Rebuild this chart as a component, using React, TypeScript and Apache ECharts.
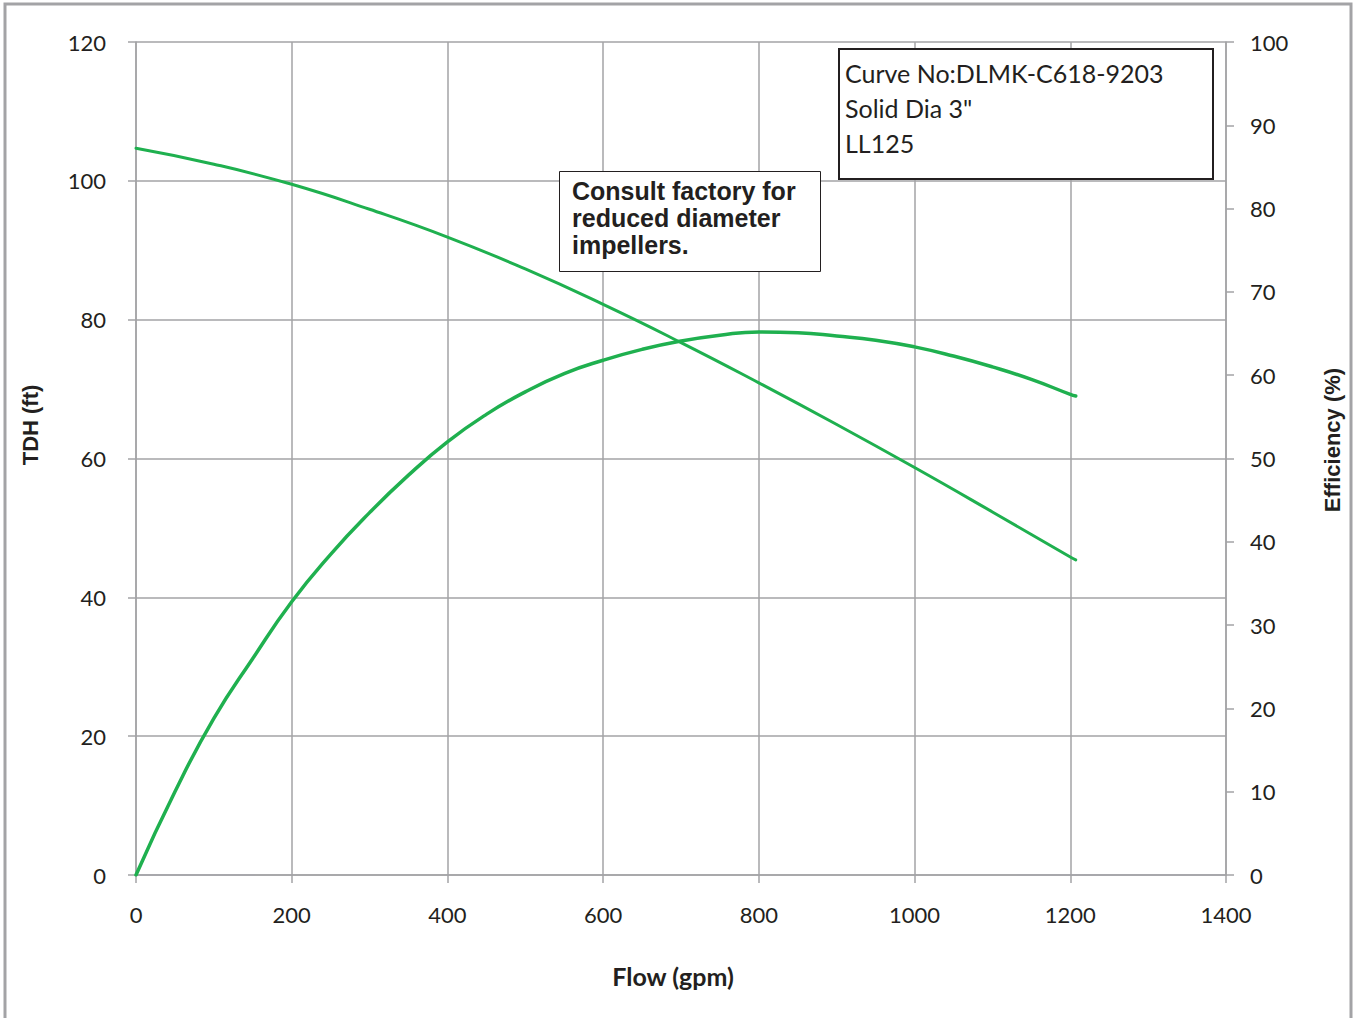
import React, { useEffect, useRef } from "react";
import * as echarts from "echarts";

const flowEff = [0, 50, 100, 150, 200, 250, 300, 350, 400, 450, 500, 550, 600, 650, 700, 750, 800, 850, 900, 950, 1000, 1050, 1100, 1150, 1200, 1207];
const effValues = [0, 10.0, 18.8, 26.0, 32.8, 38.5, 43.5, 48.0, 52.0, 55.3, 58.0, 60.2, 61.8, 63.1, 64.1, 64.8, 65.2, 65.1, 64.7, 64.2, 63.4, 62.3, 61.0, 59.5, 57.7, 57.5];

const flowHead = [0, 100, 200, 300, 400, 500, 600, 700, 800, 900, 1000, 1100, 1200, 1207];
const headValues = [104.7, 102.4, 99.5, 95.9, 91.9, 87.3, 82.2, 76.7, 70.9, 64.9, 58.7, 52.3, 45.8, 45.4];

const curveInfo = ["Curve No:DLMK-C618-9203", 'Solid Dia 3"', "LL125"];
const noteLines = ["Consult factory for", "reduced diameter", "impellers."];

const GREEN = "#1fb04f";
const GRID = "#a3a3a6";
const TXT = "#231f20";
const FONT = "Lato";

export default function App() {
  const ref = useRef<HTMLDivElement>(null);
  useEffect(() => {
    if (!ref.current) return;
    const chart = echarts.init(ref.current, null, { renderer: "svg" });
    const headData = flowHead.map((f, i) => [f, headValues[i]]);
    const effData = flowEff.map((f, i) => [f, effValues[i]]);
    const axisLabel = { color: TXT, fontSize: 22, fontFamily: FONT, formatter: (v: number) => String(v) };
    chart.setOption({
      animation: false,
      backgroundColor: "#ffffff",
      grid: { left: 136, right: 129, top: 42, bottom: 143, containLabel: false },
      xAxis: {
        type: "value",
        min: 0,
        max: 1400,
        interval: 200,
        axisLine: { show: true, lineStyle: { color: GRID, width: 1.5 } },
        axisTick: { show: true, length: 8, lineStyle: { color: GRID, width: 1.5 } },
        splitLine: { show: true, lineStyle: { color: GRID, width: 1.5 } },
        axisLabel: { ...axisLabel, margin: 28 },
      },
      yAxis: [
        {
          type: "value",
          min: 0,
          max: 120,
          interval: 20,
          position: "left",
          axisLine: { show: true, lineStyle: { color: GRID, width: 1.5 } },
          axisTick: { show: true, length: 8, lineStyle: { color: GRID, width: 1.5 } },
          splitLine: { show: true, lineStyle: { color: GRID, width: 1.5 } },
          axisLabel: { ...axisLabel, margin: 30 },
        },
        {
          type: "value",
          min: 0,
          max: 100,
          interval: 10,
          position: "right",
          axisLine: { show: true, lineStyle: { color: GRID, width: 1.5 } },
          axisTick: { show: true, length: 8, lineStyle: { color: GRID, width: 1.5 } },
          splitLine: { show: false },
          axisLabel: { ...axisLabel, margin: 24 },
        },
      ],
      series: [
        {
          type: "line",
          name: "TDH",
          yAxisIndex: 0,
          data: headData,
          smooth: true,
          showSymbol: false,
          lineStyle: { color: GREEN, width: 3, cap: "round" },
        },
        {
          type: "line",
          name: "Efficiency",
          yAxisIndex: 1,
          data: effData,
          smooth: true,
          showSymbol: false,
          lineStyle: { color: GREEN, width: 3.5, cap: "round" },
        },
      ],
      graphic: [
        {
          type: "rect",
          z: 100,
          shape: { x: 5, y: 4, width: 1346, height: 1030 },
          style: { fill: "none", stroke: "#a3a3a6", lineWidth: 3 },
          silent: true,
        },
        {
          type: "text",
          z: 100,
          x: 30,
          y: 425,
          rotation: Math.PI / 2,
          style: { text: "TDH (ft)", fill: TXT, font: `bold 22px "Liberation Sans"`, align: "center", verticalAlign: "middle" },
        },
        {
          type: "text",
          z: 100,
          x: 1332,
          y: 440,
          rotation: Math.PI / 2,
          style: { text: "Efficiency (%)", fill: TXT, font: `bold 22px "Liberation Sans"`, align: "center", verticalAlign: "middle" },
        },
        {
          type: "text",
          z: 100,
          x: 673,
          y: 976,
          style: { text: "Flow (gpm)", fill: TXT, font: `bold 25px ${FONT}`, align: "center", verticalAlign: "middle" },
        },
        {
          type: "rect",
          z: 100,
          shape: { x: 839, y: 49, width: 374, height: 130 },
          style: { fill: "#ffffff", stroke: "#231f20", lineWidth: 2 },
        },
        ...curveInfo.map((t, i) => ({
          type: "text",
          z: 101,
          x: 845,
          y: 73 + i * 35,
          style: { text: t, fill: TXT, font: `25px ${FONT}`, align: "left", verticalAlign: "middle" },
        })),
        {
          type: "rect",
          z: 100,
          shape: { x: 559.5, y: 171.5, width: 261, height: 100 },
          style: { fill: "#ffffff", stroke: "#231f20", lineWidth: 1 },
        },
        ...noteLines.map((t, i) => ({
          type: "text",
          z: 101,
          x: 572,
          y: 191 + i * 27,
          style: { text: t, fill: TXT, font: `bold 25px "Liberation Sans"`, align: "left", verticalAlign: "middle" },
        })),
      ],
    });
    return () => chart.dispose();
  }, []);
  return <div ref={ref} style={{ position: "fixed", left: 0, top: 0, width: 1355, height: 1018 }} />;
}
